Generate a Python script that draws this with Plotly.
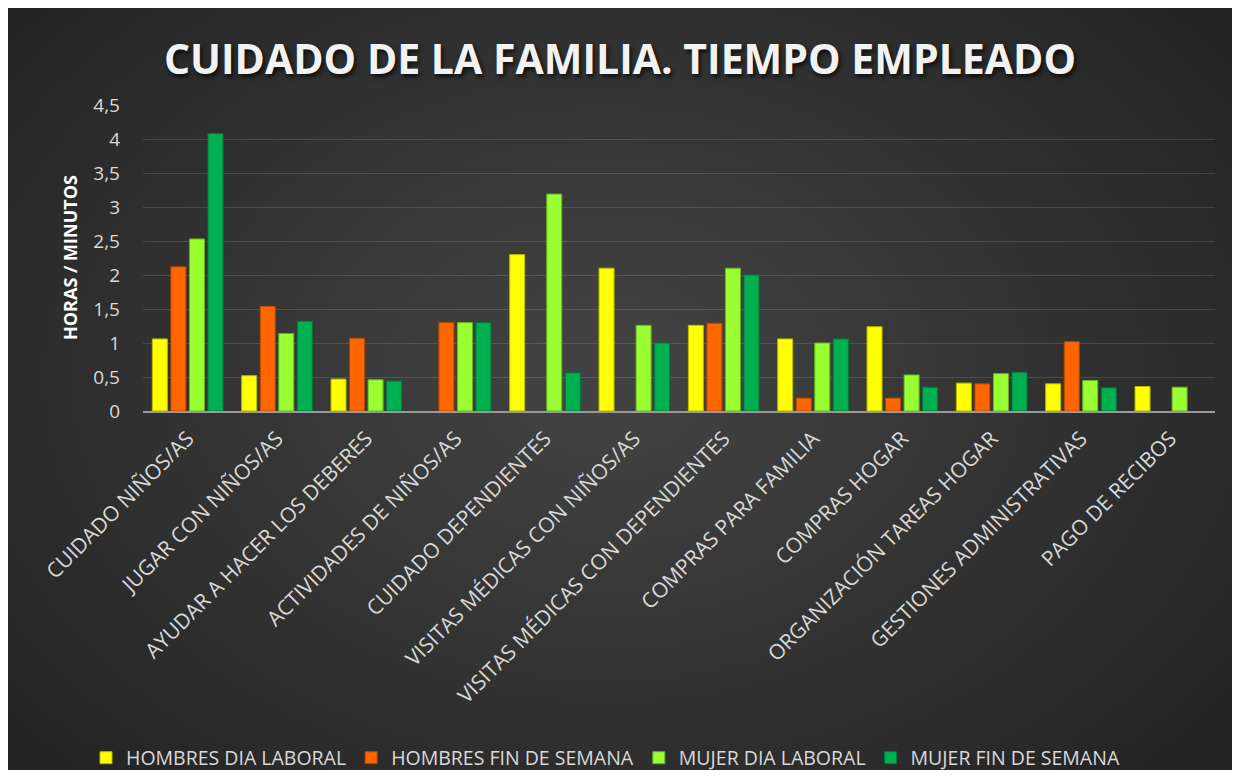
import plotly.graph_objects as go

# categories (x axis)
categorias = [
    'CUIDADO NIÑOS/AS', 'JUGAR CON NIÑOS/AS', 'AYUDAR A HACER LOS DEBERES',
    'ACTIVIDADES DE NIÑOS/AS', 'CUIDADO DEPENDIENTES', 'VISITAS MÉDICAS CON NIÑOS/AS',
    'VISITAS MÉDICAS CON DEPENDIENTES', 'COMPRAS PARA FAMILIA', 'COMPRAS HOGAR',
    'ORGANIZACIÓN TAREAS HOGAR', 'GESTIONES ADMINISTRATIVAS', 'PAGO DE RECIBOS',
]

# hours per day (None = no bar)
hombres_laboral = [1.06, 0.52, 0.47, None, 2.30, 2.10, 1.26, 1.06, 1.24, 0.41, 0.40, 0.36]
hombres_finde = [2.12, 1.54, 1.07, 1.30, None, None, 1.29, 0.19, 0.19, 0.40, 1.02, None]
mujer_laboral = [2.53, 1.14, 0.46, 1.30, 3.19, 1.26, 2.10, 1.00, 0.53, 0.55, 0.45, 0.35]
mujer_finde = [4.08, 1.32, 0.44, 1.30, 0.56, 1.00, 2.00, 1.06, 0.35, 0.57, 0.34, None]

series = [
    ('HOMBRES DIA LABORAL', hombres_laboral, '#FFFF00', '#b8b800'),
    ('HOMBRES FIN DE SEMANA', hombres_finde, '#FF6600', '#b34700'),
    ('MUJER DIA LABORAL', mujer_laboral, '#99FF33', '#66b31f'),
    ('MUJER FIN DE SEMANA', mujer_finde, '#00B050', '#007a37'),
]

# page has an 8px body margin, so the figure is the window minus 16px
W, H = 1224, 762
L, R, T, B = 135, 17, 97, 359
pw, ph = W - L - R, H - T - B


def px(x):
    return (x - L) / pw


def py(y):
    return (H - B - y) / ph


fig = go.Figure()
for nombre, valores, color, borde in series:
    fig.add_trace(go.Bar(
        x=categorias, y=valores, name=nombre,
        marker=dict(color=color, line=dict(color=borde, width=1)),
    ))

# soft radial glow over the dark background
shapes = []
cx, cy = 600, 370
n = 30
for i in range(n):
    rx = 780 - i * 24
    ry = 560 - i * 17
    shapes.append(dict(type='circle', xref='paper', yref='paper',
                       x0=px(cx - rx), x1=px(cx + rx), y0=py(cy - ry), y1=py(cy + ry),
                       fillcolor='rgba(255,255,255,0.0075)', line_width=0, layer='below'))

fig.update_layout(
    width=W, height=H,
    margin=dict(l=L, r=R, t=T, b=B, autoexpand=False),
    paper_bgcolor='#232323',
    plot_bgcolor='rgba(0,0,0,0)',
    separators=',.',
    barmode='group', bargap=0.17, bargroupgap=0.19,
    font=dict(family='Open Sans', color='#d9d9d9'),
    shapes=shapes,
    title=dict(text='<b>CUIDADO DE LA FAMILIA. TIEMPO EMPLEADO</b>',
               x=0.5, xanchor='center', y=1 - 52 / H, yanchor='middle',
               font=dict(size=41, color='#f2f2f2', family='Open Sans',
                         shadow='2px 3px 4px rgba(0,0,0,0.7)')),
    xaxis=dict(tickangle=-45, tickfont=dict(size=21, color='#d9d9d9'),
               showline=True, linecolor='#9a9a9a', linewidth=2,
               showgrid=False, ticks='', ticklabelshift=0, ticklabelstandoff=5),
    yaxis=dict(range=[0, 4.5], dtick=0.5, showgrid=True,
               gridcolor='rgba(255,255,255,0.13)', gridwidth=1,
               zeroline=False, tickfont=dict(size=19, color='#d9d9d9'),
               ticklabelstandoff=22),
    legend=dict(orientation='h', x=px(78), xanchor='left', y=py(750), yanchor='middle',
                font=dict(size=19.5, color='#d9d9d9'), bgcolor='rgba(0,0,0,0)'),
    annotations=[dict(text='<b>HORAS / MINUTOS</b>', xref='paper', yref='paper',
                      x=px(62), xanchor='center', y=0.5, yanchor='middle',
                      textangle=-90, showarrow=False,
                      font=dict(size=18, color='white'))],
)

fig.write_html('out.html')
